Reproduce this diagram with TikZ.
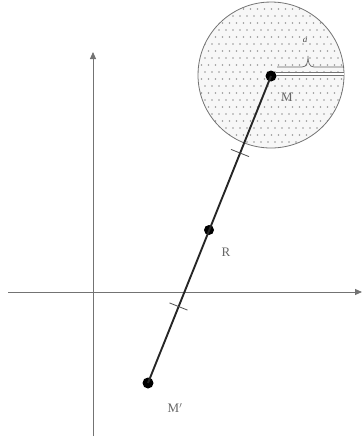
\documentclass[tikz,border=0pt]{standalone}
\usepackage{fontspec}
\setmainfont{Liberation Serif}
\usetikzlibrary{arrows.meta}
\begin{document}
\begin{tikzpicture}[x=1pt,y=-1pt,
  axis/.style={draw=black!55,line width=0.9pt,-{Triangle[length=7pt,width=6pt]}},
  pt/.style={circle,fill=black,inner sep=0pt,minimum size=11pt},
  seg/.style={draw=black!85,line width=1.9pt},
  tick/.style={draw=black!70,line width=0.8pt},
  lbl/.style={font=\fontsize{13}{15}\selectfont,text=black!60,inner sep=1pt}]
\useasboundingbox (0,0) rectangle (363,439);
% circle with dotted fill
\fill[black!3] (271,75) circle (73);
\begin{scope}
  \clip (271,75) circle (73);
  \foreach \j in {0,...,21} {
    \pgfmathsetmacro{\yy}{2+7*\j}
    \pgfmathsetmacro{\off}{mod(\j,2)*3.5}
    \foreach \i in {0,...,22} {
      \fill[black!40] ({198+\off+7*\i},\yy) circle (0.8);
    }
  }
\end{scope}
\draw[black!55,line width=0.8pt] (271,75) circle (73);
% axes
\coordinate (xa) at (8,292);
\coordinate (xb) at (362,292);
\coordinate (ya) at (93,436);
\coordinate (yb) at (93,52);
\draw[axis] (xa) -- (xb);
\draw[axis] (ya) -- (yb);
% points
\node[pt] (M) at (271,76) {};
\node[pt,minimum size=10pt] (R) at (209,230) {};
\node[pt] (Mp) at (148,383) {};
\draw[seg] (M.center) -- (Mp.center);
% radius (double line) and brace
\coordinate (E) at (344,74);
\draw[black!55,double=white,double distance=2.5pt,line width=0.7pt] (M.center) ++(5,-2) -- (E);
\coordinate (b1) at (277,67);
\coordinate (b2) at (344,67);
\coordinate (bt) at (308,56);
\draw[black!60,line width=0.7pt] (b1) -- (302,67) .. controls (307,67) and (308,62) .. (bt)
  .. controls (308,62) and (309,67) .. (314,67) -- (b2);
\node[lbl,font=\small\itshape,text=black!70] (a) at (305,40) {a};
% ticks at midpoints
\path (M.center) -- (R.center) coordinate[pos=0.5] (t1);
\path (R.center) -- (Mp.center) coordinate[pos=0.5] (t2);
\draw[tick] ([shift={(-9,-3.6)}]t1) -- ([shift={(9,3.6)}]t1);
\draw[tick] ([shift={(-9,-3.6)}]t2) -- ([shift={(9,3.6)}]t2);
% labels
\node[lbl] (lM) at (287,97) {M};
\node[lbl] (lR) at (226,252) {R};
\node[lbl] (lMp) at (175,408) {M$^{\prime}$};
\end{tikzpicture}
\end{document}
